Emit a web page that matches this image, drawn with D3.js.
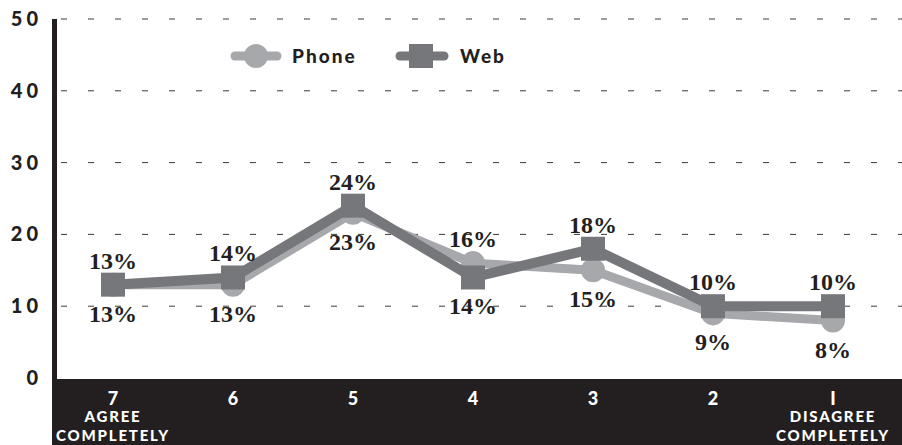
<!DOCTYPE html>
<html>
<head>
<meta charset="utf-8">
<script src="https://cdn.jsdelivr.net/npm/d3@7"></script>
<style>
  html, body { margin: 0; padding: 0; background: #fff; }
  svg { display: block; }
  .val { font-family: "Liberation Serif", "DejaVu Serif", serif; font-weight: bold; }
</style>
</head>
<body>
<svg id="chart" width="902" height="445"></svg>
<script>
// Survey scale, from "agree completely" (7) to "disagree completely" (1)
const categories = ["7", "6", "5", "4", "3", "2", "1"];
const categoryNotes = ["AGREE COMPLETELY", "", "", "", "", "", "DISAGREE COMPLETELY"];
const phoneValues = [13, 13, 23, 16, 15, 9, 8];
const webValues = [13, 14, 24, 14, 18, 10, 10];
const yTicks = [0, 10, 20, 30, 40, 50];
const seriesNames = ["Phone", "Web"];

const phoneColor = "#a7a8ab";
const webColor = "#76777b";
const ink = "#231f20";
const sans = "Lato, 'DejaVu Sans', sans-serif";

const svg = d3.select("#chart");
const W = 902, H = 445;

const x = d3.scalePoint().domain(categories).range([53, 893]).padding(0.5);
const y = d3.scaleLinear().domain([0, 50]).range([378, 19]);

// dashed gridlines
svg.append("g").selectAll("line")
  .data(yTicks.filter(t => t > 0))
  .join("line")
  .attr("x1", 58).attr("x2", W)
  .attr("y1", d => y(d)).attr("y2", d => y(d))
  .attr("stroke", "#3a3a3a").attr("stroke-width", 1)
  .attr("stroke-dasharray", "6,21")
  .attr("stroke-dashoffset", -3);

// bottom band carrying the category axis
svg.append("rect")
  .attr("x", 52).attr("y", y(0) + 1)
  .attr("width", W - 52).attr("height", H - y(0) - 1)
  .attr("fill", ink);

// vertical axis bar
svg.append("rect")
  .attr("x", 52).attr("y", y(50))
  .attr("width", 5).attr("height", H - y(50))
  .attr("fill", ink);

// y tick labels
svg.append("g").selectAll("text")
  .data(yTicks)
  .join("text")
  .attr("x", 42).attr("y", d => y(d) + 7)
  .attr("text-anchor", "end")
  .attr("font-family", sans).attr("font-weight", 900)
  .attr("font-size", 20).attr("letter-spacing", 4)
  .attr("fill", ink)
  .text(d => String(d));

// category labels
const catG = svg.append("g");
catG.selectAll("text.num")
  .data(categories)
  .join("text").attr("class", "num")
  .attr("x", d => x(d)).attr("y", 405)
  .attr("text-anchor", "middle")
  .attr("font-family", sans).attr("font-weight", 900)
  .attr("font-size", 18).attr("fill", "#fff")
  .text(d => d === "1" ? "I" : d);

categories.forEach((c, i) => {
  const note = categoryNotes[i];
  if (!note) return;
  const words = note.split(" ");
  words.forEach((w, j) => {
    catG.append("text")
      .attr("x", x(c)).attr("y", 422 + j * 19)
      .attr("text-anchor", "middle")
      .attr("font-family", sans).attr("font-weight", 900)
      .attr("font-size", 15).attr("letter-spacing", 1.8)
      .attr("fill", "#fff")
      .text(w);
  });
});

const line = d3.line().x((d, i) => x(categories[i])).y(d => y(d));

// Phone series
svg.append("path").datum(phoneValues)
  .attr("d", line).attr("fill", "none")
  .attr("stroke", phoneColor).attr("stroke-width", 9)
  .attr("stroke-linejoin", "round");
svg.append("g").selectAll("circle")
  .data(phoneValues).join("circle")
  .attr("cx", (d, i) => x(categories[i])).attr("cy", d => y(d))
  .attr("r", 12).attr("fill", phoneColor);

// Web series
svg.append("path").datum(webValues)
  .attr("d", line).attr("fill", "none")
  .attr("stroke", webColor).attr("stroke-width", 10)
  .attr("stroke-linejoin", "miter");
svg.append("g").selectAll("rect")
  .data(webValues).join("rect")
  .attr("x", (d, i) => x(categories[i]) - 12).attr("y", d => y(d) - 12)
  .attr("width", 24).attr("height", 24).attr("fill", webColor);

// value labels: the higher point of each pair is labelled above, the lower below
const labelG = svg.append("g")
  .attr("class", "val")
  .attr("font-size", 24).attr("fill", ink).attr("text-anchor", "middle");
categories.forEach((c, i) => {
  const p = phoneValues[i], w = webValues[i];
  const phoneAbove = p > w;
  [[p, phoneAbove], [w, !phoneAbove]].forEach(([v, above]) => {
    labelG.append("text")
      .attr("x", x(c))
      .attr("y", above ? y(v) - 16 : y(v) + 37)
      .text(v + "%");
  });
});

// legend
const legend = svg.append("g").attr("transform", "translate(0,56)");
legend.append("line").attr("x1", 235).attr("x2", 277)
  .attr("stroke", phoneColor).attr("stroke-width", 9).attr("stroke-linecap", "round");
legend.append("circle").attr("cx", 256).attr("cy", 0).attr("r", 12).attr("fill", phoneColor);
legend.append("line").attr("x1", 400).attr("x2", 444)
  .attr("stroke", webColor).attr("stroke-width", 9).attr("stroke-linecap", "round");
legend.append("rect").attr("x", 409).attr("y", -12).attr("width", 24).attr("height", 24).attr("fill", webColor);
legend.selectAll("text.name").data(seriesNames).join("text").attr("class", "name")
  .attr("x", (d, i) => i === 0 ? 292 : 460).attr("y", 7)
  .attr("font-family", sans).attr("font-weight", 900)
  .attr("font-size", 19).attr("letter-spacing", 2).attr("fill", ink)
  .text(d => d);
</script>
</body>
</html>
